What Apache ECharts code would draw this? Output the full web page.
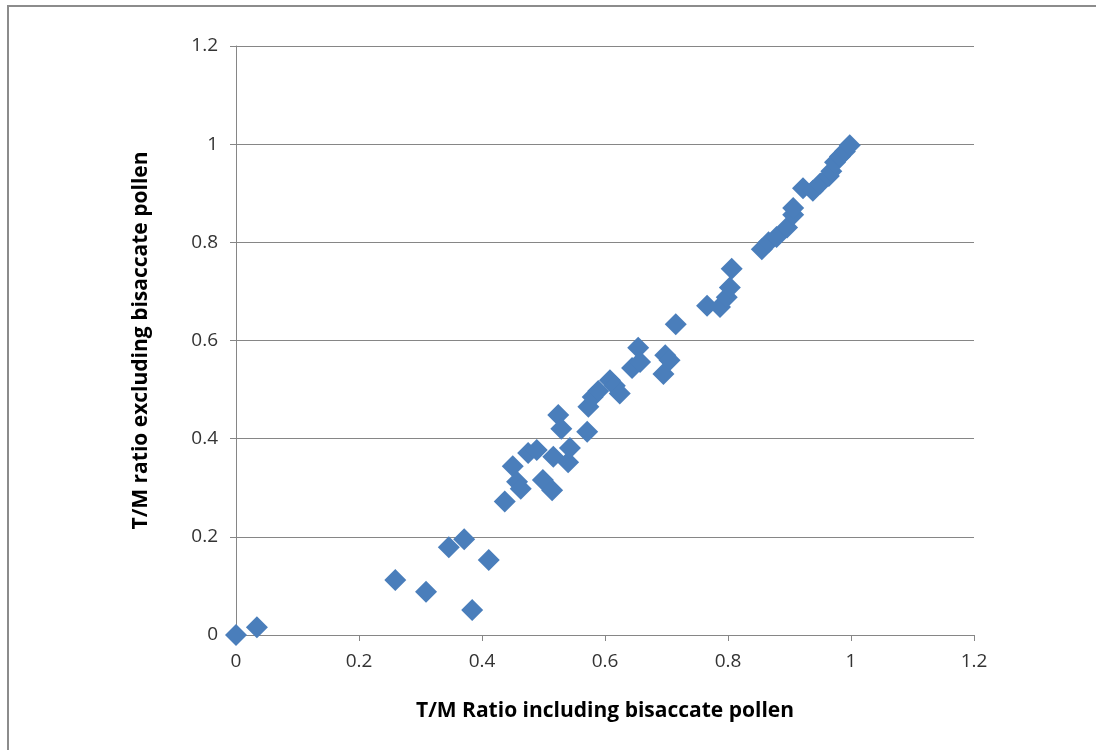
<!DOCTYPE html>
<html>
<head>
<meta charset="utf-8">
<script src="https://cdn.jsdelivr.net/npm/echarts@6/dist/echarts.min.js"></script>
<style>
html,body{margin:0;padding:0;background:#fff;}
#frame{position:absolute;left:7px;top:5px;width:1100px;height:760px;border-top:2px solid #8c8c8c;border-left:2px solid #8c8c8c;box-sizing:border-box;}
#chart{position:absolute;left:0;top:0;width:1096px;height:750px;}
</style>
</head>
<body>
<div id="frame"></div>
<div id="chart"></div>
<script>
// T/M ratio including bisaccate pollen (x)
const xValues = [0, 0.034, 0.259, 0.309, 0.346, 0.371, 0.384, 0.411, 0.437, 0.450,
  0.457, 0.463, 0.475, 0.489, 0.499, 0.514, 0.516, 0.524, 0.529, 0.540,
  0.543, 0.571, 0.573, 0.580, 0.589, 0.608, 0.616, 0.624, 0.644, 0.654,
  0.657, 0.695, 0.698, 0.705, 0.715, 0.766, 0.787, 0.798, 0.803, 0.806,
  0.855, 0.866, 0.879, 0.896, 0.906, 0.906, 0.922, 0.938, 0.950, 0.964,
  0.968, 0.974, 0.982, 0.990, 0.998];
// T/M ratio excluding bisaccate pollen (y)
const yValues = [0, 0.016, 0.112, 0.088, 0.179, 0.195, 0.051, 0.153, 0.272, 0.344,
  0.312, 0.298, 0.371, 0.377, 0.316, 0.295, 0.363, 0.448, 0.420, 0.352,
  0.381, 0.414, 0.465, 0.485, 0.497, 0.519, 0.508, 0.492, 0.544, 0.585,
  0.556, 0.532, 0.570, 0.560, 0.633, 0.671, 0.668, 0.688, 0.708, 0.746,
  0.786, 0.800, 0.811, 0.830, 0.856, 0.870, 0.910, 0.905, 0.920, 0.935,
  0.945, 0.963, 0.975, 0.985, 0.998];
const xAxisTitle = 'T/M Ratio including bisaccate pollen';
const yAxisTitle = 'T/M ratio excluding bisaccate pollen';

const points = xValues.map((x, i) => [x, yValues[i]]);
const chart = echarts.init(document.getElementById('chart'));
const lab = {color:'#333333', fontSize:19, fontFamily:'Open Sans, DejaVu Sans, sans-serif'};
chart.setOption({
  animation:false,
  grid:{left:236, right:122, top:46, bottom:115},
  xAxis:{
    type:'value', min:0, max:1.2, interval:0.2,
    name:xAxisTitle, nameLocation:'middle', nameGap:66,
    nameTextStyle:{fontSize:21, fontWeight:'bold', color:'#000', fontFamily:'Open Sans, DejaVu Sans, sans-serif'},
    axisLine:{show:true, onZero:false, lineStyle:{color:'#868686', width:1}},
    axisTick:{show:true, length:6, inside:false, lineStyle:{color:'#868686'}},
    axisLabel:Object.assign({margin:17, formatter:v=>String(+v.toFixed(1))}, lab),
    splitLine:{show:false}
  },
  yAxis:{
    type:'value', min:0, max:1.2, interval:0.2,
    name:yAxisTitle, nameLocation:'middle', nameGap:84,
    nameTextStyle:{fontSize:21, fontWeight:'bold', color:'#000', fontFamily:'Open Sans, DejaVu Sans, sans-serif'},
    axisLine:{show:true, onZero:false, lineStyle:{color:'#868686', width:1}},
    axisTick:{show:true, length:6, lineStyle:{color:'#868686'}},
    axisLabel:Object.assign({margin:18, formatter:v=>String(+v.toFixed(1))}, lab),
    splitLine:{show:true, lineStyle:{color:'#868686', width:1}}
  },
  series:[{
    type:'scatter', data:points, symbol:'diamond', symbolSize:22,
    itemStyle:{color:'#4A7EBB', opacity:1}
  }]
});
</script>
</body>
</html>
